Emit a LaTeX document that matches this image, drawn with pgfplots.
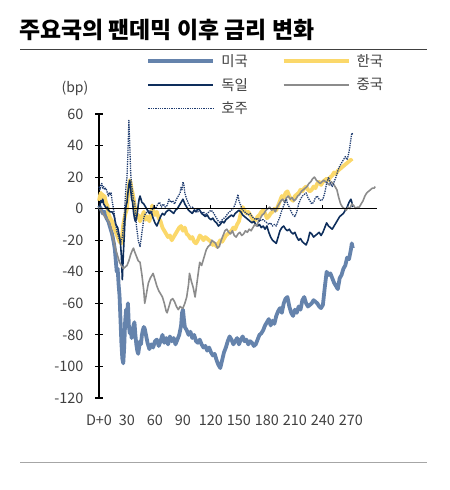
\documentclass[border=0pt]{standalone}
\usepackage{pgfplots}
\pgfplotsset{compat=1.18}
\usepackage{fontspec}
\setmainfont{Noto Sans CJK KR}

\definecolor{usblue}{HTML}{6583AC}
\definecolor{kryellow}{HTML}{FBD86A}
\definecolor{denavy}{HTML}{0E2E5C}
\definecolor{cngray}{HTML}{8C8C8C}
\definecolor{aunavy}{HTML}{1F3C70}
\definecolor{labgray}{HTML}{404040}

\begin{document}
\begin{tikzpicture}[x=1bp,y=1bp]
\useasboundingbox (0,0) rectangle (450,-490);

% title and rules
\node[anchor=west, inner sep=0pt, font=\fontsize{23}{27}\selectfont\bfseries] at (19,-30) {주요국의 팬데믹 이후 금리 변화};
\draw[color=labgray, line width=0.8bp] (20,-49) -- (427,-49);
\draw[color=black!35, line width=1bp] (20,-462) -- (427,-462);
\node[font=\fontsize{14}{16}\selectfont, text=labgray] at (75,-88) {(bp)};

\begin{axis}[
    at={(99bp,-398bp)}, anchor=south west,
    scale only axis, width=278bp, height=284bp,
    xmin=0, xmax=298, ymin=-120, ymax=60,
    axis x line*=bottom, axis y line*=left,
    x axis line style={draw=none},
    y axis line style={black, line width=1.2bp},
    xtick={0,30,...,270},
    xticklabels={D+0,30,60,90,120,150,180,210,240,270},
    ytick={-120,-100,...,60},
    major x tick style={draw=none},
    major y tick style={black, line width=1.2bp},
    tick align=center, major tick length=8bp,
    ticklabel style={font=\fontsize{14.5}{16}\selectfont, text=labgray},
    /pgf/number format/assume math mode=true,
    xticklabel style={yshift=-9bp},
    yticklabel style={xshift=-8bp},
    legend columns=2,
    legend cell align=left,
    legend style={at={(0.17,1.218)}, anchor=north west, draw=none, fill=none,
        inner sep=0pt, font=\fontsize{14.5}{16}\selectfont, text=labgray,
        /tikz/every even column/.append style={column sep=32bp},
        row sep=6.5bp},
    legend image code/.code={\draw[#1] (0bp,0bp) -- (65bp,0bp); \path (69bp,0bp);},
    clip=false,
]

\addplot[usblue, line width=3.8bp, line join=round] coordinates {
(0,2) (2,0) (4,-3) (6,-2) (8,-6) (10,-8) (12,-12) (14,-16) (16,-22) (17,-26)
(18,-33) (19,-40) (20,-38) (21,-48) (22,-55) (23,-70) (24,-85) (25,-95) (26,-98) (27,-88)
(28,-72) (29,-64) (30,-68) (31,-60) (32,-74) (33,-79) (34,-76) (35,-82) (36,-78) (37,-74)
(38,-72) (39,-80) (40,-86) (41,-90) (42,-92) (43,-88) (44,-84) (45,-86) (46,-80) (47,-77)
(48,-75) (49,-76) (50,-79) (52,-85) (54,-89) (56,-86) (58,-88) (60,-84) (62,-83) (64,-87)
(66,-84) (68,-80) (70,-85) (72,-82) (74,-86) (76,-81) (78,-84) (80,-82) (82,-86) (84,-83)
(86,-80) (88,-74) (89,-66) (90,-64) (91,-70) (92,-75) (94,-77) (96,-80) (98,-78) (100,-82)
(102,-80) (104,-84) (106,-85) (108,-83) (110,-86) (112,-88) (114,-87) (116,-90) (118,-88) (120,-91)
(122,-93) (124,-92) (126,-96) (128,-99) (130,-101) (132,-96) (134,-91) (136,-88) (138,-84) (140,-81)
(142,-83) (144,-86) (146,-84) (148,-82) (150,-86) (152,-83) (154,-81) (156,-84) (158,-83) (160,-86)
(162,-84) (164,-85) (166,-87) (168,-86) (170,-83) (172,-80) (174,-79) (176,-77) (178,-74) (180,-72)
(182,-70) (184,-74) (186,-71) (188,-73) (190,-68) (192,-65) (194,-63) (196,-66) (198,-60) (200,-57)
(202,-56) (204,-62) (206,-66) (208,-68) (210,-64) (212,-66) (214,-62) (216,-64) (218,-58) (220,-56)
(222,-60) (224,-62) (226,-61) (228,-60) (230,-58) (232,-59) (234,-60) (236,-62) (238,-63) (240,-61)
(242,-50) (244,-40) (246,-42) (248,-41) (250,-44) (252,-47) (254,-49) (256,-51) (258,-44) (260,-42)
(262,-38) (264,-36) (266,-31) (268,-32) (270,-26) (271,-22) (272,-25)
};
\addlegendentry{미국}

\addplot[kryellow, line width=3.8bp, line join=round] coordinates {
(0,5) (1,8) (2,10) (3,7) (4,9) (5,6) (6,8) (7,5) (8,3) (9,2)
(10,-3) (12,-6) (14,-8) (16,-12) (18,-15) (20,-18) (22,-21) (24,-22) (25,-16) (26,-10)
(28,-4) (30,0) (31,8) (32,14) (33,18) (34,16) (35,12) (36,10) (38,3) (40,-6)
(42,-4) (44,-8) (46,-5) (48,-2) (50,-7) (52,-5) (54,-8) (56,-3) (57,2) (58,-1)
(60,-4) (62,-2) (64,-6) (66,-8) (68,-12) (70,-14) (72,-16) (74,-18) (76,-17) (78,-20)
(80,-18) (82,-16) (84,-14) (86,-12) (88,-11) (90,-14) (92,-12) (94,-16) (96,-17) (98,-19)
(100,-18) (102,-21) (104,-22) (106,-20) (108,-17) (110,-18) (112,-20) (114,-18) (116,-19) (118,-20)
(120,-21) (122,-23) (124,-22) (126,-24) (128,-22) (130,-20) (132,-21) (134,-19) (136,-17) (138,-16)
(140,-15) (142,-14) (144,-12) (146,-13) (148,-10) (150,-8) (152,-3) (154,1) (156,-1) (158,-3)
(160,-2) (162,-4) (164,-6) (166,-8) (168,-7) (170,-5) (172,-4) (174,-2) (176,-1) (178,-3)
(180,-6) (182,-5) (184,-3) (186,-2) (188,0) (190,-1) (192,2) (194,5) (196,8) (198,7)
(200,10) (202,11) (204,8) (206,6) (208,5) (210,8) (212,9) (214,10) (216,12) (218,11)
(220,13) (222,14) (224,12) (226,11) (228,12) (230,14) (232,13) (234,16) (236,17) (238,15)
(240,17) (242,18) (244,19) (246,18) (248,20) (250,21) (252,23) (254,22) (256,24) (258,25)
(260,26) (262,27) (264,28) (266,29) (268,30) (270,31) (271,30)
};
\addlegendentry{한국}

\addplot[denavy, line width=1.6bp, line join=round] coordinates {
(0,0) (1,2) (2,5) (3,4) (4,6) (5,3) (6,2) (7,1) (8,0) (9,1)
(10,-1) (12,-2) (14,-2) (16,-4) (18,-10) (20,-12) (22,-18) (23,-22) (24,-30) (25,-45)
(26,-30) (27,-18) (28,-5) (29,2) (30,4) (31,10) (32,15) (33,18) (34,12) (35,6)
(36,4) (37,-2) (38,-6) (39,-8) (40,-7) (41,-3) (42,2) (43,6) (44,8) (45,6)
(46,4) (48,3) (50,1) (52,-1) (54,-3) (56,-2) (58,-6) (60,-9) (62,-11) (64,-8)
(66,-5) (68,-3) (70,-4) (72,-2) (74,-1) (76,-1) (78,-2) (80,-3) (82,-1) (84,0)
(86,2) (88,4) (90,6) (92,3) (94,1) (96,-1) (98,-2) (100,-3) (102,-1) (104,-2)
(106,0) (108,-1) (110,-3) (112,-4) (114,-5) (116,-4) (118,-6) (120,-7) (122,-6) (124,-8)
(126,-9) (128,-11) (130,-10) (132,-8) (134,-9) (136,-7) (138,-6) (140,-5) (142,-4) (144,-5)
(146,-3) (148,-2) (150,-1) (152,-2) (154,-4) (156,-5) (158,-6) (160,-7) (162,-8) (164,-9)
(166,-8) (168,-10) (170,-11) (172,-10) (174,-12) (176,-11) (178,-13) (180,-11) (182,-15) (184,-18)
(186,-20) (188,-21) (190,-22) (192,-18) (194,-14) (196,-12) (198,-11) (200,-13) (202,-14) (204,-13)
(206,-15) (208,-16) (210,-15) (212,-18) (214,-20) (216,-19) (218,-21) (220,-22) (222,-23) (224,-20)
(226,-15) (228,-16) (230,-18) (232,-17) (234,-16) (236,-15) (238,-17) (240,-15) (242,-12) (244,-9)
(246,-11) (248,-12) (250,-13) (252,-11) (254,-9) (256,-7) (258,-5) (260,-4) (262,-3) (264,-1)
(266,1) (268,4) (270,6) (271,4) (272,1)
};
\addlegendentry{독일}

\addplot[cngray, line width=1.6bp, line join=round] coordinates {
(0,1) (2,-1) (4,-3) (6,-5) (8,-6) (10,-8) (12,-11) (14,-16) (16,-21) (18,-26)
(20,-30) (22,-34) (24,-36) (26,-38) (28,-37) (30,-36) (32,-33) (34,-29) (36,-26) (37,-25)
(38,-27) (40,-30) (42,-33) (44,-34) (46,-42) (48,-52) (49,-60) (50,-57) (52,-50) (53,-47)
(55,-44) (57,-42) (58,-41) (60,-45) (62,-49) (64,-52) (66,-54) (68,-56) (70,-60) (72,-65)
(73,-66) (75,-62) (77,-58) (79,-57) (81,-59) (83,-62) (85,-64) (87,-62) (89,-63) (90,-63)
(92,-60) (94,-56) (96,-48) (97,-41) (99,-46) (101,-50) (103,-56) (105,-47) (107,-38) (108,-34)
(110,-36) (112,-32) (114,-28) (115,-26) (117,-24) (119,-23) (121,-20) (123,-21) (125,-22) (127,-25)
(129,-24) (131,-20) (133,-17) (135,-14) (137,-13) (139,-15) (141,-16) (143,-14) (145,-17) (147,-18)
(149,-16) (151,-15) (153,-17) (155,-16) (157,-14) (159,-15) (161,-13) (163,-14) (165,-12) (167,-10)
(169,-11) (171,-8) (173,-6) (175,-4) (177,-3) (179,-1) (181,0) (183,1) (185,-1) (187,0)
(189,-2) (191,1) (193,3) (195,5) (197,6) (199,4) (201,7) (203,8) (205,6) (207,7)
(209,5) (211,6) (213,8) (215,9) (217,11) (219,12) (221,13) (223,14) (225,16) (227,17)
(229,19) (231,20) (233,18) (235,17) (237,16) (239,17) (241,18) (243,17) (245,16) (247,15)
(249,17) (251,16) (253,14) (255,12) (257,7) (259,3) (261,1) (263,0) (265,-1) (267,1)
(269,0) (271,3) (273,2) (275,0) (277,1) (279,1) (281,3) (283,5) (285,8) (287,10)
(289,11) (291,12) (293,13) (295,13) (296,14)
};
\addlegendentry{중국}

\addplot[aunavy, line width=1.3bp, densely dotted, line join=round] coordinates {
(0,14) (1,12) (2,15) (3,16) (4,13) (5,14) (6,12) (7,13) (8,12) (9,10)
(10,8) (11,10) (12,9) (13,10) (14,5) (15,2) (16,-2) (17,-6) (18,-10) (19,-14)
(20,-16) (21,-18) (22,-20) (23,-22) (24,-20) (25,-18) (26,-12) (27,-5) (28,5) (29,15)
(30,20) (31,35) (32,56) (33,40) (34,22) (35,15) (36,10) (37,5) (38,5) (39,-2)
(40,-10) (41,-15) (42,-20) (43,-22) (44,-24) (45,-20) (46,-15) (47,-11) (48,-6) (49,-4)
(50,-3) (52,-2) (54,-1) (56,-3) (57,-1) (59,2) (61,0) (63,3) (65,4) (67,1)
(69,3) (71,1) (73,2) (75,6) (77,4) (79,5) (81,3) (83,6) (85,8) (87,10)
(88,14) (89,12) (90,17) (91,15) (92,10) (93,8) (94,6) (96,3) (98,1) (100,1)
(102,0) (104,-1) (106,-2) (108,-1) (110,-3) (112,-2) (114,-4) (116,-3) (118,-2) (120,-1)
(122,-2) (124,-4) (126,-6) (128,-8) (130,-9) (132,-7) (134,-6) (136,-5) (138,-3) (140,-2)
(142,-1) (144,0) (146,3) (148,7) (149,9) (150,5) (152,2) (154,-1) (156,-2) (158,-3)
(160,-4) (162,-3) (164,-5) (166,-6) (168,-7) (170,-6) (172,-8) (174,-7) (176,-7) (178,-8)
(180,-9) (182,-10) (184,-9) (186,-11) (188,-10) (190,-11) (192,-8) (194,-5) (196,-1) (198,2)
(200,5) (201,6) (202,3) (204,1) (206,-2) (208,-4) (210,-5) (212,-2) (214,3) (216,6)
(218,8) (220,9) (222,10) (224,7) (226,5) (228,3) (230,4) (232,7) (234,8) (236,6)
(238,5) (240,6) (242,10) (244,16) (246,20) (248,16) (250,14) (252,17) (254,20) (256,24)
(258,27) (260,29) (262,31) (264,33) (266,31) (268,36) (270,44) (271,48) (272,47)
};
\addlegendentry{호주}

% zero line with small upward ticks every 60 days
\draw[black, line width=1.2bp] (axis cs:0,0) -- (axis cs:298,0);
\draw[black, line width=1bp] (axis cs:60,0) -- (axis cs:60,2.6);
\draw[black, line width=1bp] (axis cs:120,0) -- (axis cs:120,2.6);
\draw[black, line width=1bp] (axis cs:180,0) -- (axis cs:180,2.6);
\draw[black, line width=1bp] (axis cs:240,0) -- (axis cs:240,2.6);
\end{axis}
\end{tikzpicture}
\end{document}
